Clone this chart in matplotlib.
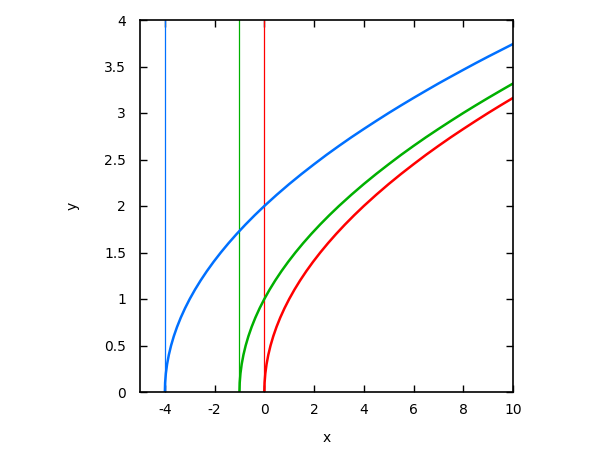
import matplotlib
matplotlib.use("Agg")
import matplotlib.pyplot as plt

# Data
red_x = [0, 0.01, 0.04, 0.09, 0.16, 0.25, 0.36, 0.49, 0.64, 0.81, 1, 1.21, 1.44, 1.69, 1.96,
         2.25, 2.56, 2.89, 3.24, 3.61, 4, 4.5, 5, 5.5, 6, 6.5, 7, 7.5, 8, 8.5, 9, 9.5, 10]
red_y = [0, 0.1, 0.2, 0.3, 0.4, 0.5, 0.6, 0.7, 0.8, 0.9, 1.0, 1.1, 1.2, 1.3, 1.4,
         1.5, 1.6, 1.7, 1.8, 1.9, 2.0, 2.121, 2.236, 2.345, 2.449, 2.55, 2.646, 2.739, 2.828,
         2.915, 3.0, 3.082, 3.162]

green_x = [-1, -0.99, -0.96, -0.91, -0.84, -0.75, -0.64, -0.51, -0.36, -0.19, 0, 0.21, 0.44, 0.69, 0.96,
           1.25, 1.56, 1.89, 2.24, 2.61, 3, 3.5, 4, 4.5, 5, 5.5, 6, 6.5, 7, 7.5, 8, 8.5, 9, 9.5, 10]
green_y = [0, 0.1, 0.2, 0.3, 0.4, 0.5, 0.6, 0.7, 0.8, 0.9, 1.0, 1.1, 1.2, 1.3, 1.4,
           1.5, 1.6, 1.7, 1.8, 1.9, 2.0, 2.121, 2.236, 2.345, 2.449, 2.55, 2.646, 2.739, 2.828,
           2.915, 3.0, 3.082, 3.162, 3.24, 3.317]

blue_x = [-4, -3.99, -3.96, -3.91, -3.84, -3.75, -3.64, -3.51, -3.36, -3.19, -3, -2.79, -2.56, -2.31, -2.04,
          -1.75, -1.44, -1.11, -0.76, -0.39, 0, 0.5, 1, 1.5, 2, 2.5, 3, 3.5, 4, 4.5, 5, 5.5, 6,
          6.5, 7, 7.5, 8, 8.5, 9, 9.5, 10]
blue_y = [0, 0.1, 0.2, 0.3, 0.4, 0.5, 0.6, 0.7, 0.8, 0.9, 1.0, 1.1, 1.2, 1.3, 1.4,
          1.5, 1.6, 1.7, 1.8, 1.9, 2.0, 2.121, 2.236, 2.345, 2.449, 2.55, 2.646, 2.739, 2.828,
          2.915, 3.0, 3.082, 3.162, 3.24, 3.317, 3.391, 3.464, 3.536, 3.606, 3.674, 3.742]

vlines_x = [-4, -1, 0]
xticks = [-4, -2, 0, 2, 4, 6, 8, 10]
xtick_labels = ["-4", "-2", "0", "2", "4", "6", "8", "10"]
yticks = [0, 0.5, 1, 1.5, 2, 2.5, 3, 3.5, 4]
ytick_labels = ["0", "0.5", "1", "1.5", "2", "2.5", "3", "3.5", "4"]

RED = "#ff0000"
GREEN = "#00b000"
BLUE = "#0070ff"

plt.rcParams['font.family'] = ['DejaVu Sans']
plt.rcParams['axes.unicode_minus'] = False

fig = plt.figure(figsize=(6, 4.5), dpi=100)
ax = fig.add_axes([140/600, 1-392/450, (513-140)/600, (392-20)/450])

for xv, c in zip(vlines_x, [BLUE, GREEN, RED]):
    ax.axvline(xv, color=c, lw=0.9)

ax.plot(red_x, red_y, color=RED, lw=1.8)
ax.plot(green_x, green_y, color=GREEN, lw=1.8)
ax.plot(blue_x, blue_y, color=BLUE, lw=1.8)

ax.set_xlim(-5, 10)
ax.set_ylim(0, 4)
ax.set_xticks(xticks)
ax.set_xticklabels(xtick_labels)
ax.set_yticks(yticks)
ax.set_yticklabels(ytick_labels)
ax.tick_params(direction='in', top=True, right=True, length=5, width=1,
               labelsize=10, colors='black')
ax.tick_params(axis='y', pad=10)
ax.tick_params(axis='x', pad=8)
for s in ax.spines.values():
    s.set_linewidth(1.2)
ax.set_xlabel("x", fontsize=10, labelpad=10)
ax.set_ylabel("y", fontsize=10, labelpad=18, rotation=90)

fig.savefig("out.png", dpi=100)
